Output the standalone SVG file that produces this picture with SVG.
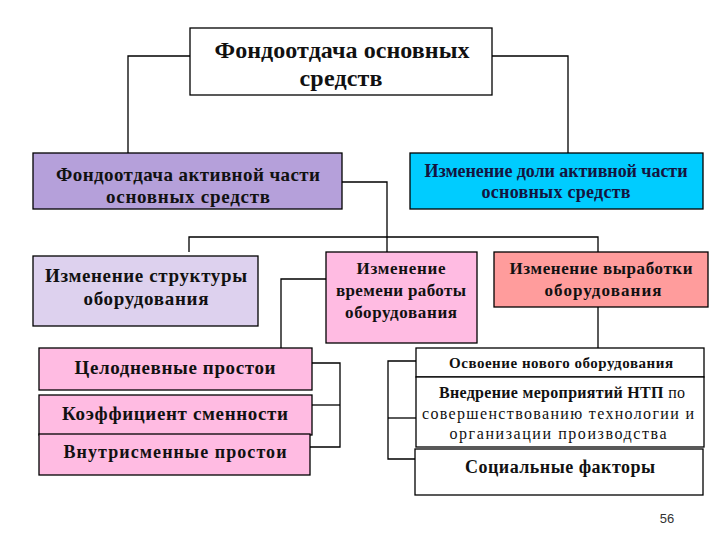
<svg xmlns="http://www.w3.org/2000/svg" width="720" height="540" viewBox="0 0 720 540">
<style>
.b{stroke:#000;stroke-width:1.3}
.t{font-weight:bold;fill:#111;text-anchor:middle;dominant-baseline:central}
.n{font-weight:normal}
.c{fill:none;stroke:#000;stroke-width:1.3}
</style>
<rect width="720" height="540" fill="#fff"/>
<g id="connectors">
<polyline class="c" points="190,56 128,56 128,153"/>
<polyline class="c" points="492,56 568,56 568,153"/>
<polyline class="c" points="342,182 387,182 387,252"/>
<polyline class="c" points="189,252 189,237 598,237 598,252"/>
<polyline class="c" points="326,279 281,279 281,348"/>
<polyline class="c" points="312,363 340,363 340,447 310,447"/>
<line class="c" x1="312" y1="405" x2="340" y2="405"/>
<line class="c" x1="598" y1="307" x2="598" y2="348"/>
<polyline class="c" points="418,361 388,361 388,459 416,459"/>
<line class="c" x1="388" y1="418" x2="416" y2="418"/>
</g>
<g font-family="Liberation Serif, DejaVu Serif, serif">
<g id="n-top">
<rect class="b" x="190" y="28" width="302" height="67" fill="#fff"/>
<text class="t" x="342" y="50" font-size="24" textLength="255">Фондоотдача основных</text>
<text class="t" x="341" y="78" font-size="24" textLength="83">средств</text>
</g>
<g id="n-active">
<rect class="b" x="33" y="153" width="309" height="56" fill="#B5A0DA"/>
<text class="t" x="188" y="174" font-size="19" textLength="264">Фондоотдача активной части</text>
<text class="t" x="188" y="196" font-size="19" textLength="164">основных средств</text>
</g>
<g id="n-share">
<rect class="b" x="410" y="153" width="293" height="56" fill="#00CCFF"/>
<text class="t" x="556" y="171" font-size="18" fill="#141440" style="fill:#141440" textLength="263">Изменение доли активной части</text>
<text class="t" x="556" y="192" font-size="18" style="fill:#141440" textLength="149">основных средств</text>
</g>
<g id="n-struct">
<rect class="b" x="33" y="256" width="225" height="70" fill="#DDD1EE"/>
<text class="t" x="146" y="275" font-size="19" textLength="202">Изменение структуры</text>
<text class="t" x="146" y="298" font-size="19" textLength="125">оборудования</text>
</g>
<g id="n-time">
<rect class="b" x="326" y="252" width="151" height="91" fill="#FFBBE2"/>
<text class="t" x="401" y="268" font-size="17" textLength="89">Изменение</text>
<text class="t" x="401" y="290" font-size="17" textLength="130">времени работы</text>
<text class="t" x="401" y="312" font-size="17" textLength="112">оборудования</text>
</g>
<g id="n-output">
<rect class="b" x="494" y="252" width="214" height="55" fill="#FF9C9C"/>
<text class="t" x="601" y="268" font-size="17" textLength="183">Изменение выработки</text>
<text class="t" x="603" y="290" font-size="17" textLength="117">оборудования</text>
</g>
<g id="n-fullday">
<rect class="b" x="39" y="348" width="273" height="42" fill="#FFBBE2"/>
<text class="t" x="175" y="367" font-size="19" textLength="201">Целодневные простои</text>
</g>
<g id="n-shift">
<rect class="b" x="39" y="395" width="273" height="40" fill="#FFBBE2"/>
<text class="t" x="175" y="413" font-size="19" textLength="226">Коэффициент сменности</text>
</g>
<g id="n-intrashift">
<rect class="b" x="39" y="434" width="271" height="41" fill="#FFBBE2"/>
<text class="t" x="175" y="452" font-size="18" textLength="223">Внутрисменные простои</text>
</g>
<g id="n-newequip">
<rect class="b" x="416" y="348" width="288" height="29" fill="#fff"/>
<text class="t" x="561" y="363" font-size="15" textLength="224">Освоение нового оборудования</text>
</g>
<g id="n-ntp">
<rect class="b" x="416" y="377" width="288" height="70" fill="#fff"/>
<text class="t" x="562" y="392" font-size="16" textLength="246">Внедрение мероприятий НТП <tspan class="n">по</tspan></text>
<text class="t n" x="558" y="413" font-size="16" textLength="272">совершенствованию технологии и</text>
<text class="t n" x="558" y="433" font-size="16" textLength="217">организации производства</text>
</g>
<g id="n-social">
<rect class="b" x="415" y="449" width="288" height="46" fill="#fff"/>
<text class="t" x="560" y="467" font-size="18" textLength="190">Социальные факторы</text>
</g>
</g>
<text x="667" y="518" font-family="Liberation Sans, Arial, sans-serif" font-size="13" fill="#333" text-anchor="middle" dominant-baseline="central">56</text>
</svg>
